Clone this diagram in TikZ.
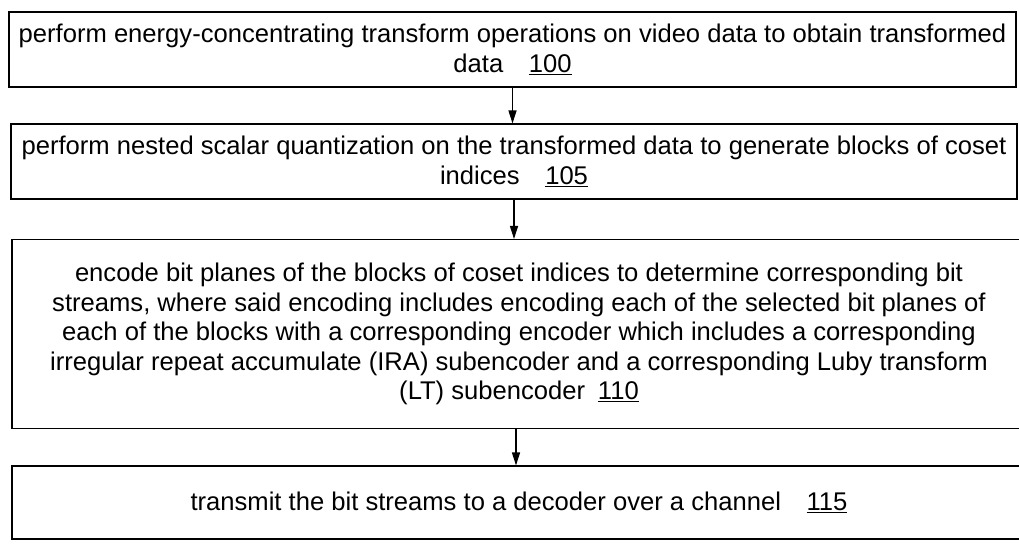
\documentclass[tikz,border=0pt]{standalone}
\usepackage{fontspec}
\setmainfont{Liberation Sans}
\usetikzlibrary{arrows.meta}
\begin{document}
\begin{tikzpicture}[x=1pt,y=-1pt,
  stepbox/.style={draw, line width=1.1pt, inner sep=0pt, align=center,
    font=\fontsize{25.6}{29.5}\selectfont},
  flow/.style={line width=1.2pt, -{Triangle[width=8pt,length=13pt]}}]
\clip (0,0) rectangle (1019,543);
\useasboundingbox (0,0) rectangle (1019,543);
\node[stepbox, minimum width=1007pt, minimum height=75pt] (b1) at (512.5,49.5)
  {perform energy-concentrating transform operations on video data to obtain transformed\\data\quad\underline{100}};
\node[stepbox, minimum width=1006pt, minimum height=75pt] (b2) at (514,161.5)
  {perform nested scalar quantization on the transformed data to generate blocks of coset\\indices\quad\underline{105}};
\node[stepbox, minimum width=1014pt, minimum height=189pt] (b3) at (519,334)
  {encode bit planes of the blocks of coset indices to determine corresponding bit\\
   streams, where said encoding includes encoding each of the selected bit planes of\\
   each of the blocks with a corresponding encoder which includes a corresponding\\
   irregular repeat accumulate (IRA) subencoder and a corresponding Luby transform\\
   (LT) subencoder\enspace\underline{110}};
\node[stepbox, minimum width=1014pt, minimum height=73pt] (b4) at (519,502.5)
  {transmit the bit streams to a decoder over a channel\quad\underline{115}};
\draw[flow] (b1.south) -- (b1.south |- b2.north);
\draw[flow] (b2.south) -- (b2.south |- b3.north);
\draw[flow] ([xshift=-3pt]b3.south) -- ([xshift=-3pt]b3.south |- b4.north);
\end{tikzpicture}
\end{document}
